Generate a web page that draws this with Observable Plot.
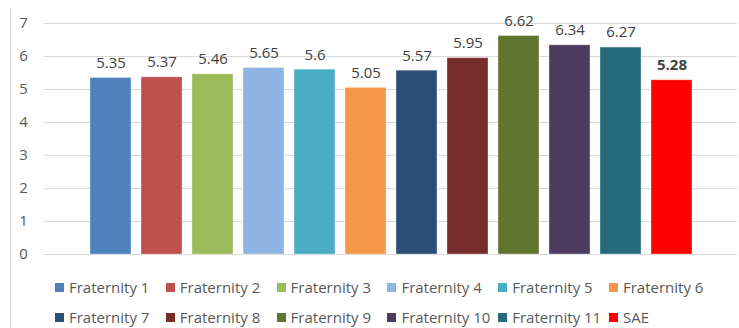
<!DOCTYPE html>
<html>
<head>
<meta charset="utf-8">
<script src="https://cdn.jsdelivr.net/npm/d3@7"></script>
<script src="https://cdn.jsdelivr.net/npm/@observablehq/plot@0.6"></script>
<style>
  html, body { margin: 0; padding: 0; background: #fff; }
  #wrap { position: relative; width: 739px; height: 328px; overflow: hidden; font-family: "Open Sans", sans-serif; }
  #border { position: absolute; left: 10px; top: 8px; bottom: 0; border-left: 1px solid #d9d9d9; }
  #legend { position: absolute; left: 55px; top: 272px; display: grid; grid-template-columns: repeat(6, 110.8px); grid-auto-rows: 30px; }
  .item { display: flex; align-items: center; font-size: 15px; color: #595959; white-space: nowrap; }
  .sw { width: 9px; height: 9px; margin-right: 5px; flex: none; }
</style>
</head>
<body>
<div id="wrap"><div id="border"></div><div id="chart"></div><div id="legend"></div></div>
<script>
const categories = ["Fraternity 1","Fraternity 2","Fraternity 3","Fraternity 4","Fraternity 5","Fraternity 6","Fraternity 7","Fraternity 8","Fraternity 9","Fraternity 10","Fraternity 11","SAE"];
const values = [5.35, 5.37, 5.46, 5.65, 5.6, 5.05, 5.57, 5.95, 6.62, 6.34, 6.27, 5.28];
const colors = ["#4F81BD","#C0504D","#9BBB59","#8EB4E3","#4BACC6","#F79646","#2C4D75","#772C2A","#5F7530","#4D3B62","#276A7C","#FF0000"];
const yTicks = [0,1,2,3,4,5,6,7];
const boldLabel = "SAE";

const data = categories.map((c, i) => ({name: c, value: values[i]}));

const plot = Plot.plot({
  width: 739,
  height: 262,
  marginLeft: 44,
  marginRight: 2,
  marginTop: 23,
  marginBottom: 8,
  style: {fontFamily: "Open Sans, sans-serif", fontSize: "15px", background: "transparent"},
  x: {domain: categories, range: [83, 698], paddingInner: 0.2, paddingOuter: 0.1, axis: null},
  y: {domain: [0, 7], ticks: yTicks, label: null},
  color: {domain: categories, range: colors},
  marks: [
    Plot.ruleY(yTicks, {stroke: "#d9d9d9", strokeWidth: 1}),
    Plot.axisY({ticks: yTicks, label: null, tickSize: 0, tickPadding: 21, tickFormat: d => String(d), fill: "#595959", fontSize: 15, textAnchor: "middle"}),
    Plot.barY(data, {x: "name", y: "value", fill: "name", stroke: "white", strokeOpacity: 0.35, strokeWidth: 1}),
    Plot.text(data.filter(d => d.name !== boldLabel), {x: "name", y: "value", text: d => String(d.value), dy: -15, fill: "#404040", fontSize: 15}),
    Plot.text(data.filter(d => d.name === boldLabel), {x: "name", y: "value", text: d => String(d.value), dy: -15, fill: "#404040", fontSize: 15, fontWeight: "bold"})
  ]
});
document.getElementById("chart").appendChild(plot);

const legend = document.getElementById("legend");
categories.forEach((c, i) => {
  const item = document.createElement("div");
  item.className = "item";
  const sw = document.createElement("span");
  sw.className = "sw";
  sw.style.background = colors[i];
  const t = document.createElement("span");
  t.textContent = c;
  item.appendChild(sw);
  item.appendChild(t);
  legend.appendChild(item);
});
</script>
</body>
</html>
